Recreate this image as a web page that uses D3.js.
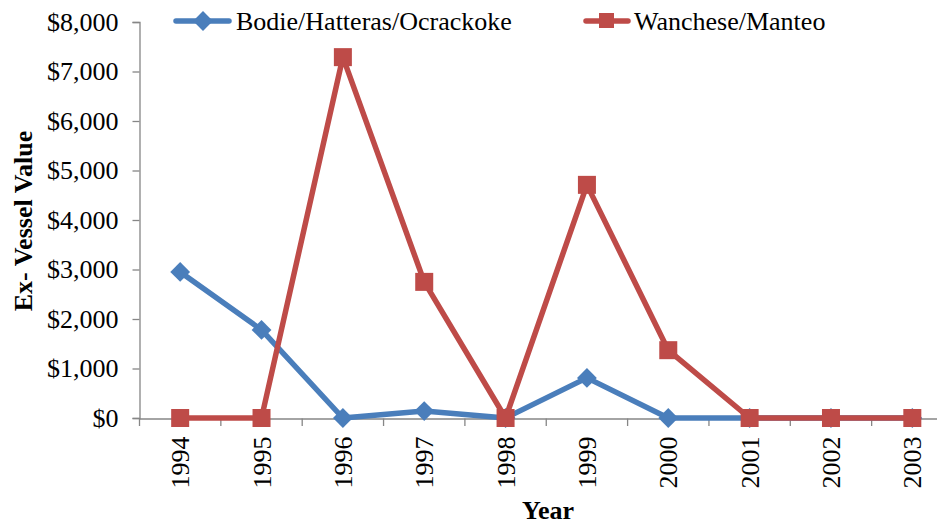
<!DOCTYPE html>
<html><head><meta charset="utf-8">
<script src="https://cdn.jsdelivr.net/npm/d3@7"></script>
<style>body{margin:0;background:#fff;} svg{display:block;font-family:"Liberation Serif","Times New Roman",serif;} svg text{font-family:"Liberation Serif","Times New Roman",serif;}</style>
</head><body><svg id="c" width="937" height="529"></svg>
<script>
const years = ["1994","1995","1996","1997","1998","1999","2000","2001","2002","2003"];
const bodie = [2950,1780,0,140,0,810,0,0,0,0];
const wanchese = [0,0,7290,2750,0,4710,1370,0,0,0];
const yTicks = [0,1000,2000,3000,4000,5000,6000,7000,8000];
const seriesNames = ["Bodie/Hatteras/Ocrackoke","Wanchese/Manteo"];

const svg = d3.select("#c");
const x = d3.scaleBand().domain(years).range([139.5, 953]);
const y = d3.scaleLinear().domain([0,8000]).range([418, 22]);
const axisColor = "#868686";
const blue = "#4a7ebb", red = "#be4b48";
const fs = 26;

// y axis
const ya = svg.append("g").attr("transform","translate(139.5,0)")
  .call(d3.axisLeft(y).tickValues(yTicks).tickSize(7).tickPadding(14).tickFormat(d=>"$"+d3.format(",")(d)));
ya.select(".domain").attr("stroke",axisColor).attr("stroke-width",1.3);
ya.selectAll(".tick line").attr("stroke",axisColor).attr("stroke-width",1.3);
ya.selectAll(".tick text").attr("font-size",fs).attr("fill","#000").attr("font-family","Liberation Serif");

// x axis
const xa = svg.append("g").attr("transform","translate(0,418.5)")
  .call(d3.axisBottom(x).tickSize(0).tickPadding(0));
xa.select(".domain").attr("stroke",axisColor).attr("stroke-width",1.3);
xa.selectAll(".tick text").attr("font-size",fs).attr("fill","#000").attr("font-family","Liberation Serif")
  .attr("transform","rotate(-90)").attr("text-anchor","end").attr("dy","0.35em").attr("x",-18).attr("y",0);
// between-category tick marks
const bounds = years.map(d=>x(d)).concat([x.range()[1]]);
svg.append("g").selectAll("line").data(bounds).join("line")
  .attr("x1",d=>d).attr("x2",d=>d).attr("y1",418.5).attr("y2",426)
  .attr("stroke",axisColor).attr("stroke-width",1.3);

const cx = d => x(d)+x.bandwidth()/2;
const line = d3.line().x((d,i)=>cx(years[i])).y(d=>y(d));

svg.append("path").datum(bodie).attr("d",line).attr("fill","none").attr("stroke",blue).attr("stroke-width",5.5).attr("stroke-linejoin","round");
svg.append("g").selectAll("rect").data(bodie).join("rect")
  .attr("x",-7).attr("y",-7).attr("width",14).attr("height",14)
  .attr("transform",(d,i)=>`translate(${cx(years[i])},${y(d)}) rotate(45)`).attr("fill",blue);

svg.append("path").datum(wanchese).attr("d",line).attr("fill","none").attr("stroke",red).attr("stroke-width",5.5).attr("stroke-linejoin","round");
svg.append("g").selectAll("rect").data(wanchese).join("rect")
  .attr("x",(d,i)=>cx(years[i])-9).attr("y",d=>y(d)-9).attr("width",18).attr("height",18).attr("fill",red);

// axis titles
svg.append("text").attr("transform","translate(32,221) rotate(-90)").attr("text-anchor","middle")
  .attr("font-size",fs).attr("font-weight","bold").text("Ex- Vessel Value");
svg.append("text").attr("x",548).attr("y",519).attr("text-anchor","middle")
  .attr("font-size",fs).attr("font-weight","bold").text("Year");

// legend
const lg = svg.append("g");
lg.append("line").attr("x1",176).attr("x2",229).attr("y1",21).attr("y2",21).attr("stroke",blue).attr("stroke-width",5.5).attr("stroke-linecap","round");
lg.append("rect").attr("x",196).attr("y",14).attr("width",14).attr("height",14).attr("fill",blue).attr("transform","rotate(45,203,21)");
lg.append("text").attr("x",236).attr("y",30).attr("font-size",fs).text(seriesNames[0]);
lg.append("line").attr("x1",586).attr("x2",628).attr("y1",21).attr("y2",21).attr("stroke",red).attr("stroke-width",5.5).attr("stroke-linecap","round");
lg.append("rect").attr("x",599).attr("y",13).attr("width",15).attr("height",15).attr("fill",red);
lg.append("text").attr("x",634).attr("y",30).attr("font-size",fs).text(seriesNames[1]);
</script></body></html>
